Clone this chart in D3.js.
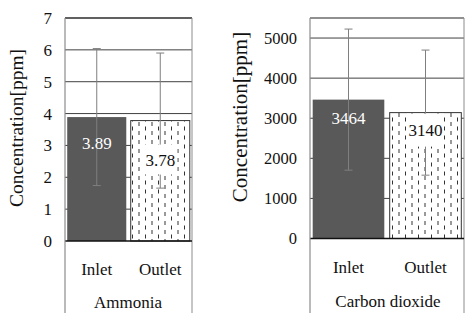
<!DOCTYPE html>
<html>
<head>
<meta charset="utf-8">
<script src="https://cdn.jsdelivr.net/npm/d3@7"></script>
<style>
  body { margin: 0; background: #fff; }
  svg { display: block; font-family: "Liberation Serif", "Times New Roman", serif; }
</style>
</head>
<body>
<svg id="chart" width="465" height="313"></svg>
<script>
// categories and values
const categories = ['Inlet', 'Outlet']
const ammoniaMeans = [3.89, 3.78]
const ammoniaErrors = [2.15, 2.12]
const ammoniaTicks = [0, 1, 2, 3, 4, 5, 6, 7]
const co2Means = [3464, 3140]
const co2Errors = [1760, 1560]
const co2Ticks = [0, 1000, 2000, 3000, 4000, 5000]

const svg = d3.select('#chart')
const darkFill = '#595959'
const gridColor = '#404040'
const axisGray = '#8c8c8c'

// hatch for the outlet bars
const defs = svg.append('defs')
const pat = defs.append('pattern')
  .attr('id', 'hatch')
  .attr('patternUnits', 'userSpaceOnUse')
  .attr('width', 13).attr('height', 9)
pat.append('rect').attr('width', 13).attr('height', 9).attr('fill', '#fff')
pat.append('line').attr('x1', 2.5).attr('x2', 2.5).attr('y1', 0.5).attr('y2', 4.5)
  .attr('stroke', '#333').attr('stroke-width', 1)
pat.append('line').attr('x1', 9).attr('x2', 9).attr('y1', 5).attr('y2', 9)
  .attr('stroke', '#333').attr('stroke-width', 1)

function drawChart(cfg) {
  const g = svg.append('g')
  const y = d3.scaleLinear().domain([0, cfg.max]).range([cfg.bottom, cfg.top])
  const x = d3.scaleBand().domain(categories).range([cfg.left, cfg.right]).paddingInner(0.07).paddingOuter(0.035)

  // gridlines
  g.selectAll('line.grid')
    .data(cfg.ticks.filter(d => d > 0))
    .enter().append('line')
    .attr('x1', cfg.left).attr('x2', cfg.right)
    .attr('y1', d => y(d)).attr('y2', d => y(d))
    .attr('stroke', gridColor).attr('stroke-width', 1)

  // plot frame top and right
  g.append('line').attr('x1', cfg.left).attr('x2', cfg.right)
    .attr('y1', y(cfg.max)).attr('y2', y(cfg.max))
    .attr('stroke', '#222').attr('stroke-width', 1.2)
  g.append('line').attr('x1', cfg.right).attr('x2', cfg.right)
    .attr('y1', y(cfg.max)).attr('y2', 313)
    .attr('stroke', axisGray).attr('stroke-width', 1)

  // bars
  g.selectAll('rect.bar')
    .data(cfg.means)
    .enter().append('rect')
    .attr('x', (d, i) => x(categories[i]))
    .attr('y', d => y(d))
    .attr('width', x.bandwidth())
    .attr('height', d => y(0) - y(d))
    .attr('fill', (d, i) => i === 0 ? darkFill : 'url(#hatch)')
    .attr('stroke', (d, i) => i === 0 ? 'none' : '#333')
    .attr('stroke-width', 1)

  // error bars
  cfg.means.forEach((m, i) => {
    const cx = x(categories[i]) + x.bandwidth() / 2
    const e = cfg.errors[i]
    g.append('line').attr('x1', cx).attr('x2', cx)
      .attr('y1', y(m - e)).attr('y2', y(m + e))
      .attr('stroke', '#7f7f7f').attr('stroke-width', 1)
    ;[m - e, m + e].forEach(v => {
      g.append('line').attr('x1', cx - 4).attr('x2', cx + 4)
        .attr('y1', y(v)).attr('y2', y(v))
        .attr('stroke', '#7f7f7f').attr('stroke-width', 1)
    })
  })

  // value labels
  cfg.means.forEach((m, i) => {
    const cx = x(categories[i]) + x.bandwidth() / 2
    const ly = y(m) + cfg.labelOffsets[i]
    const txt = cfg.format(m)
    if (i === 1) {
      g.append('rect')
        .attr('x', cx - cfg.boxW / 2).attr('y', ly - cfg.boxH / 2)
        .attr('width', cfg.boxW).attr('height', cfg.boxH)
        .attr('fill', '#fff')
    }
    g.append('text')
      .attr('x', cx).attr('y', ly)
      .attr('dy', '0.35em')
      .attr('text-anchor', 'middle')
      .attr('fill', i === 0 ? '#fff' : '#111')
      .style('font-size', '17px')
      .text(txt)
  })

  // x axis (zero line)
  g.append('line').attr('x1', cfg.left).attr('x2', cfg.right)
    .attr('y1', y(0)).attr('y2', y(0))
    .attr('stroke', '#111').attr('stroke-width', 1.5)

  // y axis line extends into category area
  g.append('line').attr('x1', cfg.left).attr('x2', cfg.left)
    .attr('y1', y(cfg.max)).attr('y2', 313)
    .attr('stroke', axisGray).attr('stroke-width', 1.2)

  // tick labels
  g.selectAll('text.tick')
    .data(cfg.ticks)
    .enter().append('text')
    .attr('x', cfg.left - 13)
    .attr('y', d => y(d))
    .attr('dy', '0.35em')
    .attr('text-anchor', 'end')
    .attr('fill', '#111')
    .style('font-size', cfg.tickSize + 'px')
    .text(d => d)

  // category labels
  g.selectAll('text.cat')
    .data(categories)
    .enter().append('text')
    .attr('x', d => x(d) + x.bandwidth() / 2)
    .attr('y', cfg.catY)
    .attr('dy', '0.35em')
    .attr('text-anchor', 'middle')
    .attr('fill', '#111')
    .style('font-size', '17px')
    .text(d => d)

  g.append('text')
    .attr('x', cfg.groupX)
    .attr('y', cfg.groupY)
    .attr('dy', '0.35em')
    .attr('text-anchor', 'middle')
    .attr('fill', '#111')
    .style('font-size', '17px')
    .text(cfg.group)

  // y title
  g.append('text')
    .attr('transform', `translate(${cfg.titleX},${cfg.titleY}) rotate(-90)`)
    .attr('dy', '0.35em')
    .attr('text-anchor', 'middle')
    .attr('fill', '#111')
    .style('font-size', cfg.titleSize + 'px')
    .text('Concentration[ppm]')
}

drawChart({
  means: ammoniaMeans, errors: ammoniaErrors, ticks: ammoniaTicks, max: 7,
  left: 65, right: 192, top: 18, bottom: 241,
  format: d => d.toFixed(2), labelOffsets: [26, 39], boxW: 34, boxH: 30,
  tickSize: 17, catY: 269, group: 'Ammonia', groupX: 128, groupY: 302,
  titleX: 16, titleY: 128, titleSize: 19.5
})

drawChart({
  means: co2Means, errors: co2Errors, ticks: co2Ticks, max: 5500,
  left: 310, right: 464, top: 18, bottom: 238.5,
  format: d => d, labelOffsets: [18.5, 17.5], boxW: 37, boxH: 33,
  tickSize: 16.5, catY: 267, group: 'Carbon dioxide', groupX: 388, groupY: 301,
  titleX: 240, titleY: 117, titleSize: 21
})
</script>
</body>
</html>
